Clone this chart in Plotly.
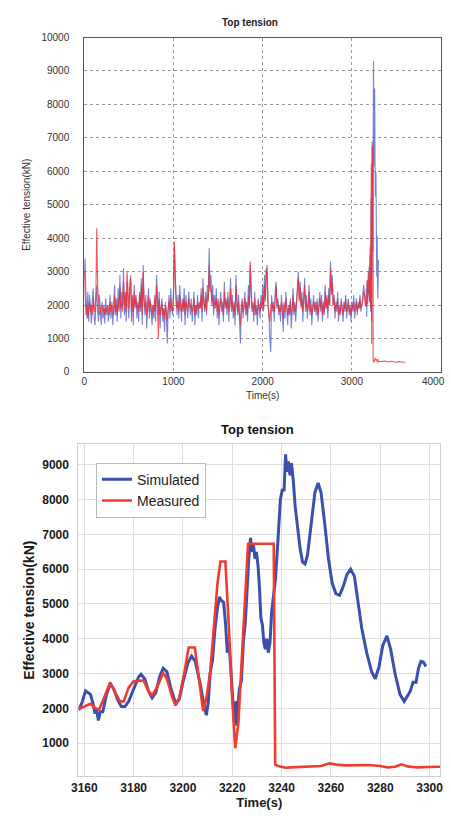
import plotly.graph_objects as go

# ---------------- data: full record (top panel), sampled every 10 s from 0 to 3150 s ----------------
coarse_t = list(range(0, 3160, 10))

sim_coarse = [
    2900, 3400, 2200, 1600, 2400, 1500, 2300, 1800, 1450, 2100, 2500, 1700, 1400, 2000, 2600, 1800, 1500, 2300, 1900, 1400,
    2100, 1600, 1900, 1450, 2200, 1700, 2000, 1500, 1800, 2300, 1600, 2100, 1400, 1900, 2600, 1700, 2200, 1500, 2500, 1800,
    2900, 1600, 2400, 2000, 3100, 1700, 2300, 1500, 2700, 2000, 1600, 2500, 2900, 1800, 2200, 1400, 2600, 1900, 2300, 1600,
    2100, 1500, 2400, 1800, 2800, 1400, 3200, 2100, 1700, 2300, 1300, 1900, 2500, 1600, 2200, 1800, 1400, 2000, 1600, 2300,
    1500, 2900, 2000, 1700, 2400, 1300, 1900, 2200, 1500, 1900, 1200, 2100, 1700, 850, 1800, 2300, 1600, 2500, 1900, 1700,
    2400, 3800, 2900, 2100, 1700, 2300, 1600, 2600, 1900, 1500, 2200, 1800, 2500, 1400, 2300, 1900, 1600, 2400, 2000, 1700,
    2200, 1500, 1900, 2400, 1400, 2000, 1700, 2300, 1600, 2100, 1900, 2500, 1500, 2800, 2100, 1800, 2400, 1700, 2600, 2200,
    3700, 2500, 2900, 2000, 2600, 1700, 2300, 1900, 2500, 1600, 2200, 1400, 2000, 2400, 1800, 2100, 1500, 2700, 1900, 2200,
    1700, 2400, 1500, 2000, 2800, 1800, 2300, 1600, 2100, 1400, 2900, 2000, 1700, 2300, 1500, 850, 1900, 2200, 1600, 2000,
    2400, 1700, 2100, 1500, 2600, 1900, 3200, 2300, 1800, 2100, 1500, 2400, 1700, 2000, 1400, 2200, 1800, 1600, 2300, 1900,
    2600, 1800, 2900, 2200, 3000, 3200, 2000, 1700, 1000, 600, 2300, 1800, 2100, 1500, 2400, 2700, 1900, 2200, 1700, 2000,
    1500, 2300, 1800, 1200, 2100, 1600, 2400, 1900, 1400, 2000, 1700, 2200, 1300, 1800, 2500, 1700, 2100, 1500, 2300, 2600,
    3000, 2200, 2700, 1900, 2400, 1500, 2200, 2800, 1800, 2300, 1600, 2000, 2600, 1700, 2200, 1400, 1900, 2300, 1800, 2100,
    1700, 2200, 1500, 1900, 2400, 1800, 2300, 1500, 2100, 1700, 2600, 1900, 2300, 1600, 2500, 2000, 3300, 2400, 2900, 2000,
    2300, 1600, 2100, 1800, 2400, 1500, 2000, 1700, 2200, 1900, 1500, 2100, 1800, 2300, 1600, 1900, 2200, 1700, 2000, 1500,
    2100, 1800, 2300, 1600, 2000, 2200, 1700, 2100, 1900, 2300, 1800, 2000, 2200, 2600, 2400, 2100,
]

meas_coarse = [
    3000, 2200, 1700, 2000, 1600, 1900, 2100, 1800, 2000, 1700, 2200, 1900, 1800, 2300, 4300, 2600, 1900, 1700, 1800, 2000,
    1900, 1800, 2000, 1700, 1900, 1800, 2000, 1900, 1700, 2100, 1800, 2000, 1900, 1700, 2300, 1800, 2000, 1700, 2200, 1900,
    2600, 1900, 2100, 1800, 2700, 2000, 2400, 1800, 3000, 2200, 1900, 2500, 2800, 1500, 2300, 1800, 2400, 2000, 2200, 1900,
    2000, 1800, 2300, 1900, 2600, 1700, 3000, 2200, 1900, 2100, 1700, 2000, 2300, 1800, 2100, 1900, 1700, 2000, 1800, 2200,
    1800, 2600, 2100, 1000, 2200, 1700, 2000, 2100, 1700, 1900, 1600, 2000, 1800, 1500, 1900, 2100, 1800, 2200, 1900, 1800,
    2200, 3900, 2700, 2000, 1900, 2100, 1800, 2300, 1900, 1800, 2100, 1900, 2200, 1700, 2100, 1900, 1800, 2200, 2000, 1900,
    2000, 1800, 1900, 2200, 1700, 2000, 1800, 2100, 1900, 2000, 1900, 2300, 1800, 2500, 2100, 1900, 2200, 1800, 2300, 2100,
    3200, 2400, 2500, 2100, 2300, 1900, 2100, 2000, 2200, 1800, 2100, 1700, 2000, 2200, 1900, 2000, 1700, 2400, 2000, 2100,
    1900, 2200, 1800, 2000, 2500, 1900, 2100, 1800, 2000, 1700, 2600, 2000, 1800, 2100, 1700, 1400, 1900, 2100, 1800, 1900,
    2200, 1900, 2000, 1700, 2300, 2000, 3300, 2300, 1900, 2000, 1700, 2200, 1800, 1900, 1700, 2100, 1900, 1800, 2100, 1900,
    2300, 1900, 2600, 2100, 3100, 2800, 2000, 1800, 1500, 1900, 2100, 1900, 2000, 1800, 2200, 2600, 2000, 2100, 1800, 1900,
    1800, 2100, 1900, 1600, 2000, 1800, 2200, 1900, 1700, 1900, 1800, 2100, 1700, 1900, 2300, 1800, 2000, 1800, 2100, 2400,
    2800, 2100, 2500, 2000, 2200, 1800, 2100, 2600, 1900, 2100, 1800, 1900, 2400, 1800, 2000, 1700, 1900, 2100, 1900, 2000,
    1800, 2100, 1700, 1900, 2200, 1900, 2100, 1700, 2000, 1800, 2400, 1900, 2200, 1800, 2300, 2000, 3100, 2300, 2700, 2000,
    2200, 1800, 2000, 1900, 2200, 1700, 1900, 1800, 2100, 1900, 1700, 2000, 1900, 2200, 1800, 1900, 2100, 1800, 1900, 1700,
    2000, 1900, 2100, 1800, 1900, 2100, 1800, 2000, 1900, 2200, 1900, 2000, 2100, 2400, 2300, 2000,
]

# ---------------- data: detail around the failure (bottom panel) ----------------
sim_t = [3157.7, 3159, 3160.5, 3161.5, 3162.5, 3163.5, 3164.3, 3165, 3165.7, 3166.5, 3167.5, 3169, 3170.5, 3172,
         3173.5, 3175, 3176.5, 3178, 3180, 3182, 3183, 3184.5, 3186, 3187.5, 3189, 3190.5, 3192, 3193.5, 3195,
         3197, 3198.5, 3200, 3202, 3203.5, 3205, 3207, 3208.5, 3209.5, 3210.3, 3211, 3212, 3213, 3214, 3214.8,
         3215.5, 3216.5, 3217.3, 3218, 3218.7, 3219.5, 3220.3, 3220.8, 3221.3, 3221.8, 3222.4, 3223, 3223.7,
         3224.5, 3225.3, 3226, 3226.7, 3227.4, 3228, 3228.6, 3229.2, 3229.8, 3230.5, 3231, 3231.6, 3232.2,
         3232.8, 3233.4, 3234, 3234.6, 3235.3, 3236, 3236.8, 3237.5, 3238.5, 3239.5, 3240.3, 3241, 3241.6,
         3242.2, 3242.8, 3243.4, 3244, 3244.8, 3245.5, 3246.5, 3247.5, 3248.5, 3249.5, 3250.5, 3252, 3253.5,
         3254.8, 3256, 3257.5, 3259, 3260.5, 3262, 3263.5, 3265, 3266.5, 3268, 3269.5, 3271, 3272.5, 3274.5,
         3276.5, 3278, 3279.5, 3281, 3282.7, 3284.2, 3286, 3288, 3289.7, 3291, 3292.2, 3293.3, 3294.5, 3295.5,
         3296.5, 3297.5, 3298.5]
sim_v = [1950, 2150, 2500, 2450, 2400, 2150, 1850, 1950, 1650, 1900, 1900, 2400, 2700, 2550,
         2250, 2050, 2050, 2200, 2550, 2900, 2980, 2850, 2500, 2300, 2450, 2900, 3150, 3050, 2600,
         2150, 2250, 2750, 3300, 3500, 3350, 2700, 2100, 1800, 2200, 3000, 3400, 4300, 4900, 5200,
         5100, 5050, 4400, 3600, 3900, 3000, 2200, 1600, 2200, 1500, 2200, 2600, 2800,
         3900, 4500, 5500, 6300, 6900, 6500, 6700, 6300, 6500, 6050, 5500, 4600, 4400,
         3900, 3700, 4000, 3600, 3900, 4800, 5200, 5700, 6800, 8000, 8300, 8250, 9300,
         8800, 9100, 8700, 9050, 8500, 7800, 7200, 6600, 6200, 6150, 6400, 7300, 8200,
         8480, 8200, 7300, 6300, 5600, 5300, 5250, 5500, 5850, 6000, 5800, 5100, 4300, 3600,
         3050, 2850, 3200, 3800, 4080, 3700, 3000, 2400, 2200, 2350, 2500, 2750, 2750, 3150,
         3350, 3330, 3200]

meas_t = [3157.7, 3160, 3162.5, 3164.5, 3166, 3168, 3170.5, 3172.5, 3174.5, 3176, 3178, 3180, 3184, 3186,
          3187.5, 3189.5, 3192, 3193.5, 3195.5, 3197, 3198.5, 3200.5, 3202.3, 3204.8, 3206.5, 3208.2, 3209.5,
          3211, 3212.5, 3214, 3215.2, 3217.2, 3218.5, 3219.8, 3221.2, 3222.5, 3224, 3225.5, 3226.4, 3236.8,
          3237.4, 3239, 3241.5, 3244, 3247, 3250, 3253, 3256, 3259.5, 3262, 3266, 3270, 3275, 3280, 3283,
          3286, 3288.6, 3291, 3295, 3300, 3304.5]
meas_v = [1980, 2050, 2130, 2000, 1960, 2300, 2750, 2450, 2200, 2200, 2600, 2780, 2800, 2500,
          2380, 2600, 3020, 2850, 2350, 2080, 2300, 3000, 3750, 3750, 2800, 1920, 2300,
          3000, 4300, 5600, 6220, 6220, 4500, 2500, 850, 1600, 3600, 5800, 6730, 6730,
          380, 330, 290, 300, 310, 300, 330, 340, 420, 380, 360, 370, 370, 340, 300,
          320, 390, 330, 300, 310, 320]

# measured record continues after the detail window (top panel only)
meas_tail_t = [3330, 3370, 3410, 3450, 3490, 3530, 3570, 3600]
meas_tail_v = [310, 330, 300, 320, 290, 310, 290, 300]

top_x_ticks = [0, 1000, 2000, 3000, 4000]

top_sim_t = coarse_t + sim_t
top_sim_v = sim_coarse + sim_v
top_meas_t = coarse_t + meas_t + meas_tail_t
top_meas_v = meas_coarse + meas_v + meas_tail_v

W, H = 451, 816
FONT = "Liberation Sans, Arial, sans-serif"

fig = go.Figure()

# top panel
fig.add_trace(go.Scatter(x=top_sim_t, y=top_sim_v, mode="lines", xaxis="x", yaxis="y",
                         line=dict(color="rgba(85,100,210,0.8)", width=1.1), showlegend=False))
fig.add_trace(go.Scatter(x=top_meas_t, y=top_meas_v, mode="lines", xaxis="x", yaxis="y",
                         line=dict(color="rgba(240,45,45,0.8)", width=1.1), showlegend=False))

# bottom panel
fig.add_trace(go.Scatter(x=sim_t, y=sim_v, mode="lines", xaxis="x2", yaxis="y2", name="Simulated",
                         line=dict(color="#3a4fae", width=3)))
fig.add_trace(go.Scatter(x=meas_t, y=meas_v, mode="lines", xaxis="x2", yaxis="y2", name="Measured",
                         line=dict(color="#f23a2e", width=2.6)))

def px_x(p):
    return p / W

def px_y(p):
    return 1 - p / H

BOLD12 = dict(size=12, color="#1a1a1a", family="Liberation Sans, Arial", weight="bold")

fig.update_layout(
    width=W, height=H,
    margin=dict(l=0, r=0, t=0, b=0),
    paper_bgcolor="white", plot_bgcolor="white",
    font=dict(family=FONT, color="#222"),
    xaxis=dict(domain=[px_x(79), px_x(444)], anchor="y", range=[0, 4000],
               tickvals=top_x_ticks[:-1], ticks="", tickfont=dict(size=10, color="#333"),
               showgrid=True, gridcolor="#9a9a9a", griddash="dot", gridwidth=1,
               showline=True, linecolor="#555", linewidth=1, mirror=True, zeroline=False,
               title=dict(text="Time(s)", font=dict(size=10, color="#333"), standoff=6)),
    yaxis=dict(domain=[px_y(372), px_y(33)], anchor="x", range=[0, 10000], tickformat="d",
               tickvals=list(range(0, 10001, 1000)), ticks="", tickfont=dict(size=10, color="#333"),
               ticklabelstandoff=12,
               showgrid=True, gridcolor="#9a9a9a", griddash="dot", gridwidth=1,
               showline=True, linecolor="#555", linewidth=1, mirror=True, zeroline=False,
               title=dict(text="Effective tension(kN)", font=dict(size=10, color="#333"), standoff=8)),
    xaxis2=dict(domain=[px_x(73), px_x(443)], anchor="y2", range=[3157.6, 3304.3],
                tickvals=list(range(3160, 3301, 20)), ticks="", tickfont=BOLD12,
                showgrid=True, gridcolor="#dedede", gridwidth=1,
                showline=True, linecolor="#cfcfcf", linewidth=1, mirror=True, zeroline=False,
                title=dict(text="<b>Time(s)</b>", font=dict(size=13, color="#1a1a1a"), standoff=2)),
    yaxis2=dict(domain=[px_y(782), px_y(445)], anchor="x2", range=[40, 9600],
                tickvals=list(range(1000, 9001, 1000)), ticks="", tickfont=BOLD12,
                ticklabelstandoff=6,
                showgrid=True, gridcolor="#dedede", gridwidth=1,
                showline=True, linecolor="#cfcfcf", linewidth=1, mirror=True, zeroline=False,
                title=dict(text="<b>Effective tension(kN)</b>", font=dict(size=14, color="#1a1a1a"), standoff=4)),
    legend=dict(x=px_x(91), y=px_y(464), xanchor="left", yanchor="top",
                bgcolor="white", bordercolor="#bbbbbb", borderwidth=1,
                font=dict(size=14, color="#1a1a1a"), tracegroupgap=0, itemwidth=30),
    annotations=[
        dict(text="<b>Top tension</b>", x=px_x(248), y=px_y(18), xref="paper", yref="paper",
             showarrow=False, font=dict(size=10, color="#222"), xanchor="center", yanchor="middle"),
        dict(text="<b>Top tension</b>", x=px_x(256), y=px_y(430), xref="paper", yref="paper",
             showarrow=False, font=dict(size=13, color="#111"), xanchor="center", yanchor="middle"),
        # last top-panel x tick label sits inside the page edge in the original
        dict(text=str(top_x_ticks[-1]), x=px_x(450), y=px_y(382), xref="paper", yref="paper",
             showarrow=False, font=dict(size=10, color="#333"), xanchor="right", yanchor="middle"),
    ],
)

fig.write_html("out.html")
